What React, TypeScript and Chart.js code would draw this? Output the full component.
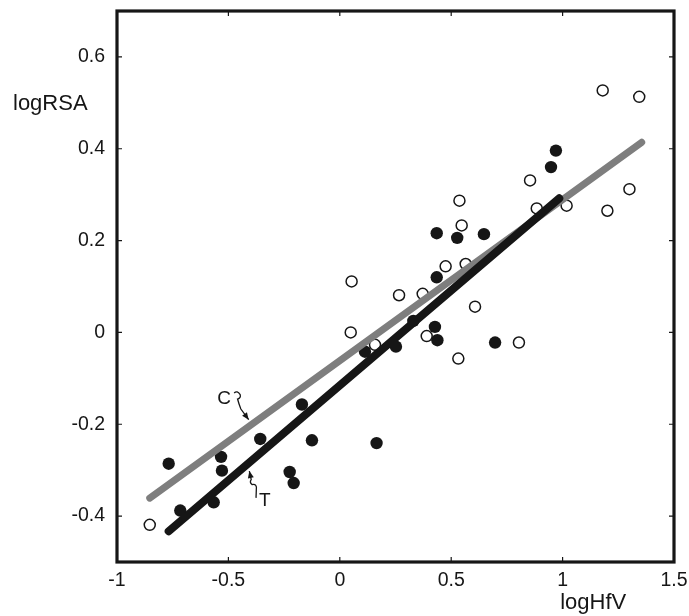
import React, { useEffect, useRef } from 'react';
import { Chart, registerables } from 'chart.js';

Chart.register(...registerables);

// ---- data ----
const xTicks = [-1, -0.5, 0, 0.5, 1, 1.5];
const xTickLabels = ['-1', '-0.5', '0', '0.5', '1', '1.5'];
const yTicks = [-0.4, -0.2, 0, 0.2, 0.4, 0.6];
const yTickLabels = ['-0.4', '-0.2', '0', '0.2', '0.4', '0.6'];

const xTitle = 'logHfV';
const yTitle = 'logRSA';

// open circles (C group)
const openX = [-0.853, 0.053, 0.049, 0.158, 0.266, 0.372, 0.390, 0.475, 0.565, 0.537, 0.547, 0.532, 0.607, 0.804, 0.854, 0.884, 1.018, 1.180, 1.201, 1.300, 1.344];
const openY = [-0.419, 0.111, 0.0, -0.027, 0.081, 0.084, -0.008, 0.144, 0.149, 0.287, 0.233, -0.057, 0.056, -0.022, 0.331, 0.270, 0.276, 0.527, 0.265, 0.312, 0.513];

// filled circles (T group)
const filledX = [-0.768, -0.716, -0.566, -0.533, -0.529, -0.357, -0.225, -0.207, -0.170, -0.125, 0.113, 0.165, 0.252, 0.330, 0.427, 0.438, 0.435, 0.435, 0.527, 0.647, 0.697, 0.948, 0.970];
const filledY = [-0.286, -0.388, -0.370, -0.271, -0.301, -0.232, -0.304, -0.328, -0.157, -0.235, -0.042, -0.241, -0.031, 0.025, 0.012, -0.017, 0.120, 0.216, 0.206, 0.214, -0.022, 0.360, 0.396];

// regression lines
const lineCX = [-0.853, 1.355];
const lineCY = [-0.361, 0.414];
const lineTX = [-0.768, 0.985];
const lineTY = [-0.433, 0.292];

// line annotations
const annotLabels = ['C', 'T'];
const annotX = [-0.519, -0.337];
const annotY = [-0.142, -0.364];
const arrowX = [-0.409, -0.406];
const arrowY = [-0.190, -0.302];

const FONT = '"Liberation Sans", Arial, Helvetica, sans-serif';
const INK = '#161616';

const zip = (xs: number[], ys: number[]) => xs.map((x, i) => ({ x, y: ys[i] }));

// squiggle shapes (pixel offsets relative to the label centre)
const squiggles: number[][][] = [
  [[10, -4.6], [16, -3], [13.4, 1.4], [16.7, 11.4]],
  [[-8.7, -1.7], [-8.4, -10], [-12.7, -15], [-13.5, -20]],
];

const zeroPad = (s: any) => {
  s.paddingLeft = 0;
  s.paddingRight = 0;
  s.paddingTop = 0;
  s.paddingBottom = 0;
};

const framePlugin = {
  id: 'framePlugin',
  afterDatasetsDraw(chart: any) {
    const { ctx, chartArea: a, scales } = chart;
    const xs = scales.x;
    const ys = scales.y;
    ctx.save();
    // inward ticks
    ctx.strokeStyle = INK;
    ctx.lineWidth = 1.2;
    const tl = 5;
    xTicks.forEach((v) => {
      const px = xs.getPixelForValue(v);
      if (px <= a.left + 2 || px >= a.right - 2) return;
      ctx.beginPath();
      ctx.moveTo(px, a.bottom);
      ctx.lineTo(px, a.bottom - tl);
      ctx.moveTo(px, a.top);
      ctx.lineTo(px, a.top + tl);
      ctx.stroke();
    });
    yTicks.forEach((v) => {
      const py = ys.getPixelForValue(v);
      ctx.beginPath();
      ctx.moveTo(a.left, py);
      ctx.lineTo(a.left + tl, py);
      ctx.moveTo(a.right, py);
      ctx.lineTo(a.right - tl, py);
      ctx.stroke();
    });
    // frame
    ctx.lineWidth = 3.2;
    ctx.strokeStyle = INK;
    ctx.strokeRect(a.left, a.top, a.right - a.left, a.bottom - a.top);

    // axis titles
    ctx.fillStyle = INK;
    ctx.font = `22px ${FONT}`;
    ctx.textBaseline = 'middle';
    ctx.textAlign = 'left';
    ctx.fillText(yTitle, 13, ys.getPixelForValue(0.5) + 1);
    ctx.textAlign = 'center';
    ctx.fillText(xTitle, xs.getPixelForValue(1.2) - 14, a.bottom + 41);

    // annotations
    annotLabels.forEach((lab, i) => {
      const lx = xs.getPixelForValue(annotX[i]);
      const ly = ys.getPixelForValue(annotY[i]);
      const tx = xs.getPixelForValue(arrowX[i]);
      const ty = ys.getPixelForValue(arrowY[i]);
      ctx.font = `19px ${FONT}`;
      ctx.textAlign = 'center';
      ctx.textBaseline = 'middle';
      ctx.fillStyle = INK;
      ctx.fillText(lab, lx, ly + 1);
      const s = squiggles[i].map(([dx, dy]) => [lx + dx, ly + dy]);
      ctx.beginPath();
      ctx.lineWidth = 1.3;
      ctx.strokeStyle = INK;
      ctx.moveTo(s[0][0], s[0][1]);
      ctx.quadraticCurveTo((s[0][0] + s[1][0]) / 2, s[0][1] - 3, s[1][0], s[1][1]);
      ctx.quadraticCurveTo(s[1][0] + 1, s[2][1] - 1, s[2][0], s[2][1]);
      ctx.quadraticCurveTo(s[3][0] - 2, (s[2][1] + s[3][1]) / 2, s[3][0], s[3][1]);
      ctx.lineTo(tx, ty);
      ctx.stroke();
      // arrow head
      const ang = Math.atan2(ty - s[3][1], tx - s[3][0]);
      const L = 7;
      const W = 3;
      ctx.beginPath();
      ctx.moveTo(tx, ty);
      ctx.lineTo(tx - L * Math.cos(ang) + W * Math.sin(ang), ty - L * Math.sin(ang) - W * Math.cos(ang));
      ctx.lineTo(tx - L * Math.cos(ang) - W * Math.sin(ang), ty - L * Math.sin(ang) + W * Math.cos(ang));
      ctx.closePath();
      ctx.fill();
    });
    ctx.restore();
  },
};

export default function App() {
  const ref = useRef<HTMLCanvasElement | null>(null);
  useEffect(() => {
    if (!ref.current) return;
    const chart = new Chart(ref.current, {
      type: 'scatter',
      data: {
        datasets: [
          {
            type: 'line',
            label: 'C',
            data: zip(lineCX, lineCY),
            borderColor: '#7e7e7e',
            borderWidth: 7,
            borderCapStyle: 'round',
            pointRadius: 0,
            fill: false,
            order: 1,
          } as any,
          {
            type: 'line',
            label: 'T',
            data: zip(lineTX, lineTY),
            borderColor: INK,
            borderWidth: 8,
            borderCapStyle: 'round',
            pointRadius: 0,
            fill: false,
            order: 0,
          } as any,
          {
            label: 'open',
            data: zip(openX, openY),
            pointRadius: 5.5,
            pointBackgroundColor: '#ffffff',
            pointBorderColor: INK,
            pointBorderWidth: 1.5,
            order: 2,
          },
          {
            label: 'filled',
            data: zip(filledX, filledY),
            pointRadius: 6.2,
            pointBackgroundColor: INK,
            pointBorderColor: INK,
            pointBorderWidth: 0,
            order: 2,
          },
        ],
      },
      options: {
        animation: false,
        responsive: true,
        maintainAspectRatio: false,
        layout: { padding: { left: 0, right: 15, top: 11, bottom: 0 } },
        plugins: { legend: { display: false }, tooltip: { enabled: false } },
        scales: {
          x: {
            type: 'linear',
            min: -1,
            max: 1.5,
            grid: { display: false, drawTicks: false, tickLength: 0 },
            border: { display: false },
            afterBuildTicks: (s: any) => {
              s.ticks = xTicks.map((v) => ({ value: v }));
            },
            afterFit: (s: any) => {
              s.height = 54;
              zeroPad(s);
            },
            ticks: {
              padding: 7,
              color: INK,
              font: { family: FONT, size: 19.5 },
              maxRotation: 0,
              autoSkip: false,
              callback: (v: any) => {
                const i = xTicks.findIndex((t) => Math.abs(t - v) < 1e-9);
                return i >= 0 ? xTickLabels[i] : '';
              },
            },
          },
          y: {
            type: 'linear',
            min: -0.5,
            max: 0.7,
            grid: { display: false, drawTicks: false, tickLength: 0 },
            border: { display: false },
            afterBuildTicks: (s: any) => {
              s.ticks = yTicks.map((v) => ({ value: v }));
            },
            afterFit: (s: any) => {
              s.width = 117;
              zeroPad(s);
            },
            ticks: {
              padding: 12,
              color: INK,
              font: { family: FONT, size: 19.5 },
              autoSkip: false,
              callback: (v: any) => {
                const i = yTicks.findIndex((t) => Math.abs(t - v) < 1e-9);
                return i >= 0 ? yTickLabels[i] : '';
              },
            },
          },
        },
      },
      plugins: [framePlugin],
    });
    return () => chart.destroy();
  }, []);
  return (
    <div style={{ position: 'absolute', left: 0, top: 0, width: 689, height: 616, background: '#fff' }}>
      <canvas ref={ref} />
    </div>
  );
}
